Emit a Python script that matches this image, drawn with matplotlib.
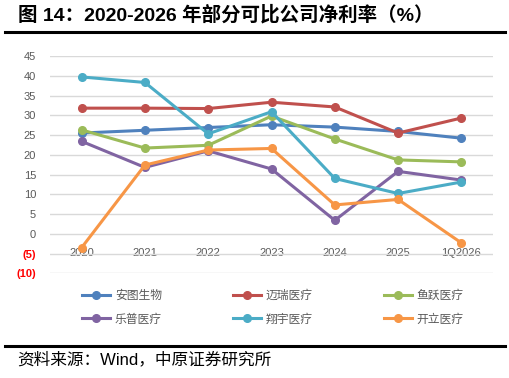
import matplotlib
matplotlib.use("Agg")
import matplotlib.pyplot as plt
from matplotlib.lines import Line2D

plt.rcParams['font.family'] = ['Liberation Sans', 'Noto Sans CJK SC', 'DejaVu Sans']

categories = ["2020", "2021", "2022", "2023", "2024", "2025", "1Q2026"]
series_names = ["安图生物", "迈瑞医疗", "鱼跃医疗", "乐普医疗", "翔宇医疗", "开立医疗"]
antu = [25.5, 26.2, 26.9, 27.6, 27.0, 25.9, 24.2]
mindray = [31.8, 31.8, 31.7, 33.3, 32.1, 25.5, 29.3]
yuyue = [26.3, 21.7, 22.4, 29.8, 24.0, 18.7, 18.2]
lepu = [23.4, 16.8, 21.0, 16.4, 3.4, 15.8, 13.6]
xiangyu = [39.7, 38.3, 25.3, 30.9, 14.0, 10.2, 13.1]
kaili = [-3.5, 17.4, 21.2, 21.6, 7.3, 8.7, -2.3]
yticks = [-10, -5, 0, 5, 10, 15, 20, 25, 30, 35, 40, 45]

series = [antu, mindray, yuyue, lepu, xiangyu, kaili]
colors = ["#4F81BD", "#C0504D", "#9BBB59", "#8064A2", "#4BACC6", "#F79646"]

fig = plt.figure(figsize=(5.1, 3.78), dpi=100)
ax = fig.add_axes([50/510, 1-273.3/378, 443/510, (273.3-56)/378])

x = list(range(len(categories)))
for vals, c, name in zip(series, colors, series_names):
    ax.plot(x, vals, color=c, lw=2.2, marker='o', ms=5.5, label=name,
            solid_capstyle='round', solid_joinstyle='round')

ax.set_xlim(-0.5, len(categories) - 0.5)
ax.set_ylim(-10, 45)
ax.set_yticks(yticks)
ax.set_yticklabels([f"({-v})" if v < 0 else str(v) for v in yticks])
for lbl, v in zip(ax.get_yticklabels(), yticks):
    if v < 0:
        lbl.set_color("#FF0000")
        lbl.set_fontweight("bold")
    else:
        lbl.set_color("#595959")
ax.tick_params(axis='y', length=0, labelsize=8, pad=10)
ax.grid(axis='y', color="#D9D9D9", lw=1)
ax.set_axisbelow(True)
for s in ['left', 'right', 'top']:
    ax.spines[s].set_visible(False)
ax.spines['bottom'].set_position(('data', 0))
ax.spines['bottom'].set_visible(False)
ax.set_xticks(x)
ax.set_xticklabels(categories)
ax.tick_params(axis='x', length=0, labelsize=8, labelcolor="#595959", pad=10)

handles = [Line2D([0], [0], color=c, lw=2.2, marker='o', ms=5.5) for c in colors]
order = [0, 3, 1, 4, 2, 5]
leg = fig.legend([handles[i] for i in order], [series_names[i] for i in order],
                 ncol=3, loc='upper left', bbox_to_anchor=(76/510, 1-283/378),
                 frameon=False, fontsize=8.5, handlelength=2.4, handletextpad=0.4,
                 columnspacing=6.0, labelspacing=0.9, borderpad=0)
for t in leg.get_texts():
    t.set_color("#595959")
    t.set_family(['Noto Sans CJK SC'])

fig.text(18/510, 1-15/378, "图 14：2020-2026 年部分可比公司净利率（%）",
         fontsize=14, fontweight='bold', va='center', ha='left')
fig.add_artist(Line2D([5/510, 505/510], [1-32/378, 1-32/378], color='black', lw=2.2))
fig.add_artist(Line2D([5/510, 505/510], [1-346/378, 1-346/378], color='black', lw=2.2))
fig.text(17/510, 1-359/378, "资料来源：Wind，中原证券研究所", fontsize=12,
         va='center', ha='left')

fig.savefig("out.png", dpi=100)
